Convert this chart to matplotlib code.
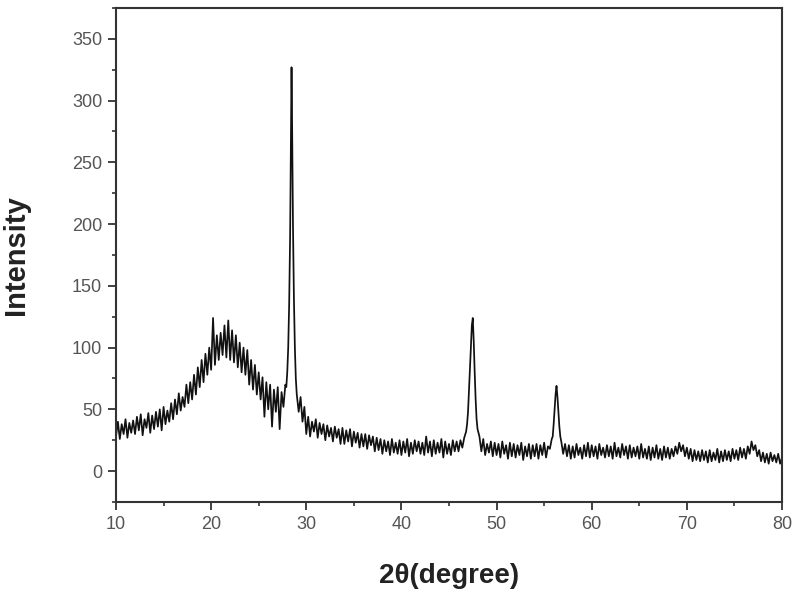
import numpy as np
import matplotlib
matplotlib.use("Agg")
import matplotlib.pyplot as plt
from matplotlib.ticker import MultipleLocator

# Scan grid: 10-80 deg, 0.2 deg step
scan_start, scan_stop, scan_step = 10.0, 80.0, 0.2
scan_int = [
    28, 40, 26, 38, 30, 42, 27, 39, 31, 41,      # 10.0-11.8
    30, 44, 33, 46, 29, 42, 35, 47, 31, 45,      # 12
    34, 48, 36, 50, 33, 52, 38, 49, 40, 55,      # 14
    42, 58, 46, 63, 49, 60, 52, 70, 55, 72,      # 16
    58, 78, 62, 84, 68, 90, 72, 95, 78, 100,     # 18
    82, 124, 86, 110, 90, 112, 94, 118, 92, 122, # 20
    90, 114, 88, 110, 84, 104, 80, 100, 78, 98,  # 22
    70, 90, 66, 86, 62, 80, 58, 76, 44, 72,      # 24
    50, 70, 36, 66, 48, 68, 34, 64, 52, 70,      # 26
    80, 135, 280, 200, 100, 62, 48, 60, 40, 52,  # 28
    30, 44, 28, 40, 32, 42, 27, 39, 30, 38,      # 30
    25, 37, 28, 35, 24, 36, 27, 34, 22, 35,      # 32
    22, 33, 24, 34, 20, 32, 23, 31, 19, 30,      # 34
    20, 30, 18, 29, 21, 28, 16, 27, 17, 26,      # 36
    14, 25, 16, 24, 13, 26, 15, 23, 14, 25,      # 38
    13, 24, 15, 26, 12, 23, 14, 25, 16, 24,      # 40
    14, 23, 13, 28, 15, 24, 12, 25, 14, 23,      # 42
    15, 26, 11, 24, 14, 22, 13, 25, 16, 24,      # 44
    16, 25, 19, 27, 32, 48, 82, 118, 105, 58,    # 46
    34, 28, 16, 26, 13, 22, 15, 24, 12, 23,      # 48
    13, 22, 11, 24, 14, 21, 10, 23, 12, 22,      # 50
    11, 21, 13, 23, 9, 20, 12, 22, 10, 21,       # 52
    12, 22, 10, 21, 13, 23, 11, 20, 18, 26,      # 54
    38, 62, 60, 36, 24, 14, 22, 12, 21, 10,      # 56
    20, 11, 22, 13, 19, 10, 21, 12, 23, 11,      # 58
    21, 12, 20, 10, 22, 13, 19, 11, 21, 12,      # 60
    20, 10, 23, 12, 19, 11, 22, 13, 20, 10,      # 62
    21, 11, 19, 12, 20, 10, 22, 11, 18, 10,      # 64
    20, 9, 19, 11, 21, 10, 18, 9, 20, 11,        # 66
    19, 10, 18, 12, 20, 14, 23, 16, 21, 12,      # 68
    19, 10, 18, 8, 17, 9, 16, 8, 17, 9,          # 70
    16, 7, 17, 8, 15, 9, 18, 7, 16, 8,           # 72
    17, 9, 16, 8, 18, 10, 17, 9, 19, 11,         # 74
    18, 10, 20, 14, 24, 17, 21, 12, 17, 8,       # 76
    15, 7, 14, 6, 15, 8, 13, 7, 14, 6,           # 78
    11,                                          # 80
]

# Extra points read around the sharp reflections
peak_theta = [27.9, 28.1, 28.3, 28.45, 28.5, 28.7, 28.9,
              46.9, 47.1, 47.3, 47.5, 47.7, 47.9,
              55.9, 56.1, 56.3, 56.5, 56.7]
peak_int = [68, 100, 190, 327, 290, 140, 75,
            38, 65, 100, 124, 80, 42,
            28, 50, 69, 48, 28]

n = len(scan_int)
scan_theta = np.round(scan_start + scan_step * np.arange(n), 2)
theta = np.concatenate([scan_theta, np.array(peak_theta)])
inten = np.concatenate([np.array(scan_int, float), np.array(peak_int, float)])
order = np.argsort(theta, kind="stable")
theta, inten = theta[order], inten[order]

plt.rcParams['font.family'] = ['Liberation Sans', 'DejaVu Sans']

fig = plt.figure(figsize=(8, 5.93), dpi=100)
ax = fig.add_axes([0.145, 0.1535, 0.8325, 0.833])
ax.plot(theta, inten, color='#111111', linewidth=1.25)

ax.set_xlim(10, 80)
ax.set_ylim(-25, 375)
ax.xaxis.set_major_locator(MultipleLocator(10))
ax.xaxis.set_minor_locator(MultipleLocator(5))
ax.yaxis.set_major_locator(MultipleLocator(50))
ax.yaxis.set_minor_locator(MultipleLocator(25))
ax.set_yticks(np.arange(0, 351, 50))

edge = '#333333'
for s in ax.spines.values():
    s.set_linewidth(1.5)
    s.set_color(edge)
ax.tick_params(which='major', direction='out', length=6, width=1.3,
               color=edge, labelsize=13, labelcolor='#555555', pad=4)
ax.tick_params(which='minor', direction='out', length=3, width=1.2, color=edge)

ax.set_xlabel('2θ(degree)', fontsize=20, fontweight='bold', labelpad=22,
              color='#222222')
ax.set_ylabel('Intensity', fontsize=21, fontweight='bold', labelpad=30,
              color='#222222')

fig.savefig('out.png', dpi=100)
